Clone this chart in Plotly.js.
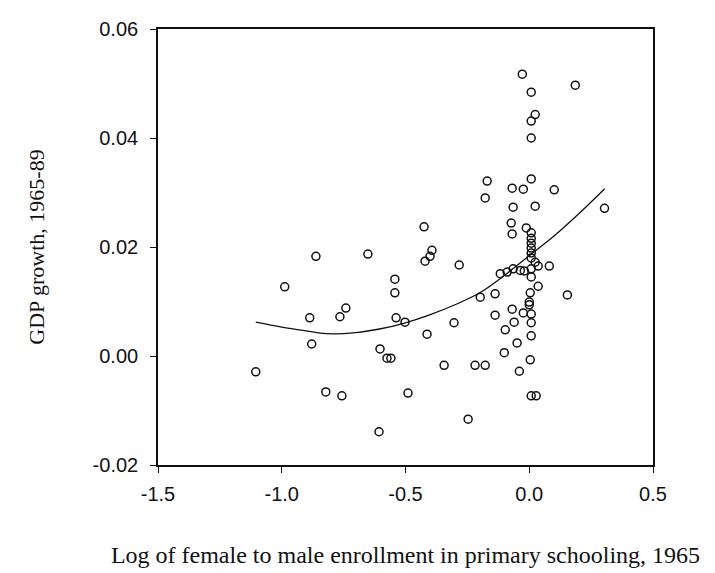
<!DOCTYPE html>
<html>
<head>
<meta charset="utf-8">
<script src="https://cdn.plot.ly/plotly-3.0.1.min.js"></script>
<style>html,body{margin:0;padding:0;background:#fff;}#chart{width:715px;height:573px;}</style>
</head>
<body>
<div id="chart"></div>
<script>
// Scatter points: log female/male primary enrollment 1965 (x), GDP growth 1965-89 (y)
const enrollX = [
  -1.105, -0.988, -0.862, -0.887, -0.879, -0.822, -0.765, -0.741, -0.757, -0.652,
  -0.607, -0.603, -0.575, -0.559, -0.543, -0.543, -0.538, -0.502, -0.490, -0.425,
  -0.421, -0.401, -0.393, -0.413, -0.344, -0.304, -0.283, -0.247, -0.219, -0.198,
  -0.178, -0.138, -0.138, -0.117, -0.101, -0.097, -0.089, -0.073, -0.069, -0.069,
  -0.069, -0.065, -0.061, -0.065, -0.049, -0.040, -0.036, -0.024, -0.028, -0.020,
  0.008, 0.024, 0.008, 0.008, 0.008, -0.024, 0.186, 0.101, 0.024, 0.304,
  -0.012, 0.008, 0.008, 0.008, 0.008, 0.008, 0.008, 0.024, 0.036, 0.081,
  0.008, 0.036, 0.004, 0.154, 0.000, 0.000, 0.008, 0.008, 0.008, 0.004,
  0.008, 0.028, -0.178, -0.170, 0.008
];
const growthY = [
  -0.0029, 0.0127, 0.0183, 0.0070, 0.0022, -0.0066, 0.0072, 0.0088, -0.0073, 0.0187,
  -0.0139, 0.0013, -0.0004, -0.0004, 0.0141, 0.0116, 0.0070, 0.0062, -0.0068, 0.0237,
  0.0174, 0.0183, 0.0194, 0.0040, -0.0017, 0.0061, 0.0167, -0.0116, -0.0017, 0.0108,
  -0.0017, 0.0114, 0.0075, 0.0151, 0.0006, 0.0048, 0.0154, 0.0244, 0.0224, 0.0308,
  0.0086, 0.0160, 0.0062, 0.0273, 0.0024, -0.0028, 0.0157, 0.0079, 0.0517, 0.0156,
  0.0484, 0.0443, 0.0431, 0.0400, 0.0325, 0.0306, 0.0497, 0.0305, 0.0275, 0.0271,
  0.0235, 0.0226, 0.0216, 0.0207, 0.0198, 0.0189, 0.0180, 0.0172, 0.0165, 0.0165,
  0.0145, 0.0128, 0.0116, 0.0112, 0.0099, 0.0094, 0.0077, 0.0061, 0.0037, -0.0007,
  -0.0073, -0.0073, 0.0290, 0.0321, 0.0160
];
// Fitted curve
const fitX = [-1.105, -1.0, -0.9, -0.82, -0.7, -0.6, -0.5, -0.4, -0.3, -0.2, -0.1, 0.0, 0.1, 0.2, 0.305];
const fitY = [0.0062, 0.0053, 0.0046, 0.0041, 0.0043, 0.0050, 0.0061, 0.0076, 0.0094, 0.0116, 0.0148, 0.0184, 0.0220, 0.0261, 0.0307];
const xTickVals = [-1.5, -1.0, -0.5, 0.0, 0.5];
const xTickText = ["-1.5", "-1.0", "-0.5", "0.0", "0.5"];
const yTickVals = [-0.02, 0.00, 0.02, 0.04, 0.06];
const yTickText = ["-0.02", "0.00", "0.02", "0.04", "0.06"];

const traces = [
  {x: fitX, y: fitY, type: 'scatter', mode: 'lines', line: {color: '#111', width: 1.3, shape: 'spline', smoothing: 1}, hoverinfo: 'skip'},
  {x: enrollX, y: growthY, type: 'scatter', mode: 'markers',
   marker: {symbol: 'circle-open', size: 8, color: '#111', line: {width: 1.5, color: '#111'}}}
];
const axisCommon = {showgrid: false, zeroline: false, showline: true, linecolor: '#111', linewidth: 1.8, mirror: true,
  ticks: 'outside', ticklen: 6, tickwidth: 1, tickcolor: '#111',
  tickfont: {family: 'Liberation Sans, Arial, sans-serif', size: 20, color: '#111'}};
const layout = {
  width: 715, height: 573, showlegend: false,
  paper_bgcolor: '#fff', plot_bgcolor: '#fff',
  margin: {l: 158, r: 62, t: 29, b: 108},
  xaxis: Object.assign({}, axisCommon, {range: [-1.5, 0.5], tickmode: 'array', tickvals: xTickVals, ticktext: xTickText,
    ticklabelstandoff: 4,
    title: {text: 'Log of female to male enrollment in primary schooling, 1965', standoff: 42,
      font: {family: 'Liberation Serif, Times New Roman, serif', size: 24, color: '#111'}}}),
  yaxis: Object.assign({}, axisCommon, {range: [-0.02, 0.06], tickmode: 'array', tickvals: yTickVals, ticktext: yTickText,
    ticklabelstandoff: 8,
    title: {text: 'GDP growth, 1965-89', standoff: 42,
      font: {family: 'Liberation Serif, Times New Roman, serif', size: 22, color: '#111'}}})
};
Plotly.newPlot('chart', traces, layout, {staticPlot: true, displayModeBar: false});
</script>
</body>
</html>
